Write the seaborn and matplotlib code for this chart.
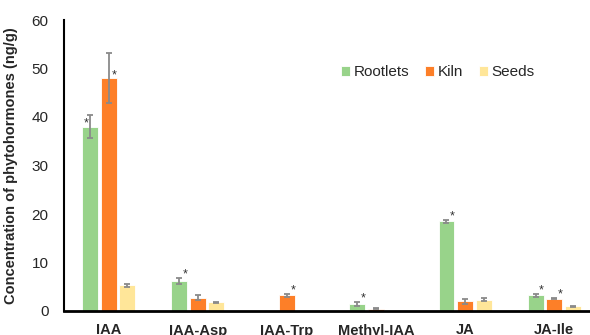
import matplotlib
matplotlib.use("Agg")
import matplotlib.pyplot as plt
import numpy as np
import pandas as pd
import seaborn as sns

# Phytohormone concentrations (ng/g) by compound and sample type
compounds = ["IAA", "IAA-Asp", "IAA-Trp", "Methyl-IAA", "JA", "JA-Ile"]
samples = ["Rootlets", "Kiln", "Seeds"]
rootlets = [38.0, 6.2, 0.0, 1.45, 18.5, 3.25]
kiln = [48.0, 2.75, 3.2, 0.45, 2.0, 2.55]
seeds = [5.3, 1.8, 0.0, 0.1, 2.3, 0.95]
rootlets_err = [2.4, 0.7, 0.0, 0.45, 0.3, 0.35]
kiln_err = [5.2, 0.55, 0.4, 0.1, 0.5, 0.15]
seeds_err = [0.3, 0.1, 0.0, 0.0, 0.3, 0.1]

# Significance marks: (compound, sample, side of the bar)
stars = [("IAA", "Rootlets", "left"), ("IAA", "Kiln", "right"),
         ("IAA-Asp", "Rootlets", "right"), ("IAA-Trp", "Kiln", "right"),
         ("Methyl-IAA", "Rootlets", "right"), ("JA", "Rootlets", "right"),
         ("JA-Ile", "Rootlets", "right"), ("JA-Ile", "Kiln", "right")]

palette = ["#98D38A", "#FD7F28", "#FFE699"]

values = {"Rootlets": rootlets, "Kiln": kiln, "Seeds": seeds}
errors = {"Rootlets": rootlets_err, "Kiln": kiln_err, "Seeds": seeds_err}
df = pd.DataFrame([
    {"compound": c, "sample": s, "conc": values[s][i], "err": errors[s][i]}
    for s in samples for i, c in enumerate(compounds)
])

sns.set_style("white")
plt.rcParams["font.family"] = ["Liberation Sans", "DejaVu Sans"]

fig = plt.figure(figsize=(5.9, 3.35), dpi=100)
ax = fig.add_axes([64 / 590, 24 / 335, 1 - 64 / 590, (311 - 20) / 335])

sns.barplot(data=df, x="compound", y="conc", hue="sample", order=compounds,
            hue_order=samples, palette=palette, errorbar=None, width=0.63,
            gap=0.15, edgecolor="white", linewidth=0.6, saturation=1, ax=ax)

# Error bars and significance marks placed from the drawn bars
bars = {}
for s, container in zip(samples, ax.containers):
    for c, patch in zip(compounds, container):
        bars[(c, s)] = patch
for (c, s), patch in bars.items():
    i = compounds.index(c)
    v, e = values[s][i], errors[s][i]
    if v <= 0 or e <= 0:
        continue
    xc = patch.get_x() + patch.get_width() / 2
    ax.errorbar(xc, v, yerr=e, fmt="none", ecolor="#8a8a8a", elinewidth=1.3,
                capsize=2.5, capthick=1.3, zorder=3)

for c, s, side in stars:
    patch = bars[(c, s)]
    i = compounds.index(c)
    v, e = values[s][i], errors[s][i]
    y = v if e > 2 else v + e
    xc = patch.get_x() + patch.get_width() / 2
    dx = 4.2 if side == "right" else -3.0
    ax.annotate("*", xy=(xc, y), xytext=(dx, -2.0), textcoords="offset points",
                ha="center", va="bottom", fontsize=9, color="#333333")

ax.set_xlim(-0.5, 5.40)
ax.set_ylim(0, 60)
ax.set_yticks(range(0, 61, 10))
ax.set_xlabel("")
ax.set_ylabel("Concentration of phytohormones (ng/g)", fontsize=10.5,
              fontweight="bold", labelpad=10)
ax.tick_params(axis="y", length=0, pad=11, labelsize=11, labelcolor="#262626")
ax.tick_params(axis="x", length=0, pad=9, labelsize=10.5)
for lbl in ax.get_xticklabels():
    lbl.set_fontweight("bold")

sns.despine(ax=ax, top=True, right=True)
ax.spines["left"].set_linewidth(1.5)
ax.spines["bottom"].set_linewidth(2)
ax.spines["left"].set_color("black")
ax.spines["bottom"].set_color("black")

leg = ax.legend(loc="upper left", bbox_to_anchor=(0.515, 0.865), ncol=3,
                frameon=False, fontsize=11, handlelength=0.6,
                handleheight=0.6, handletextpad=0.25, columnspacing=1.0,
                borderaxespad=0)
for t in leg.get_texts():
    t.set_color("#262626")

fig.savefig("out.png", dpi=100)
